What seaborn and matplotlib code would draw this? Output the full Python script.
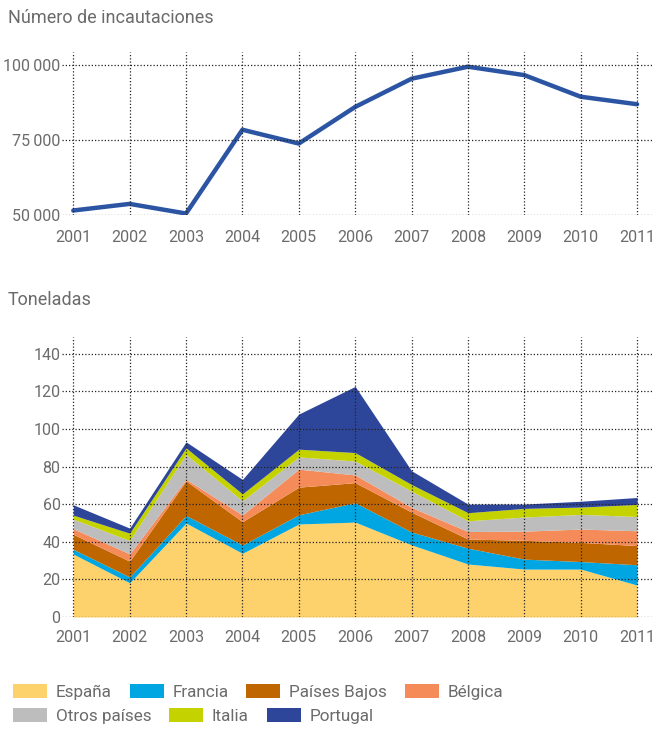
import matplotlib
matplotlib.use('Agg')
import matplotlib.pyplot as plt
from matplotlib.ticker import FuncFormatter
import seaborn as sns
import pandas as pd
import numpy as np

years = [2001, 2002, 2003, 2004, 2005, 2006, 2007, 2008, 2009, 2010, 2011]

# numero de incautaciones
seizures = [51500, 53700, 50500, 78400, 73800, 86000, 95400, 99400, 96600, 89400, 86900]

# toneladas por pais
espana = [33.5, 18.2, 50.0, 33.9, 49.5, 50.5, 38.4, 28.2, 25.5, 25.5, 17.0]
francia = [2.5, 3.1, 4.0, 4.4, 4.9, 10.3, 6.8, 8.4, 5.3, 4.0, 10.8]
paises_bajos = [8.0, 8.4, 18.4, 12.4, 14.7, 10.7, 10.6, 4.9, 10.0, 10.2, 10.2]
belgica = [3.0, 3.9, 0.9, 3.6, 9.6, 4.1, 2.5, 4.0, 4.9, 7.1, 7.9]
otros = [5.1, 7.1, 13.2, 7.5, 6.5, 7.4, 8.7, 5.7, 7.5, 7.8, 7.6]
italia = [2.1, 3.9, 3.5, 3.7, 4.1, 4.5, 3.5, 4.3, 4.6, 3.9, 6.4]
portugal = [5.5, 2.7, 3.2, 7.7, 18.7, 35.2, 7.3, 4.6, 2.3, 3.1, 3.7]

series_names = ['España', 'Francia', 'Países Bajos', 'Bélgica', 'Otros países', 'Italia', 'Portugal']
series_colors = ['#FDD16B', '#00A6E1', '#BF6600', '#F68B5A', '#BDBDBD', '#C4D300', '#2E4699']

sns.set_theme(style='white')
plt.rcParams['font.family'] = ['Roboto', 'DejaVu Sans']

TXT = '#6b6b6b'
W, H = 655, 729
fig = plt.figure(figsize=(W / 100, H / 100), dpi=100)

def axes_px(left, top, right, bottom):
    return fig.add_axes([left / W, 1 - bottom / H, (right - left) / W, (bottom - top) / H])

def style_axes(ax, xpad):
    for s in ax.spines.values():
        s.set_visible(False)
    ax.grid(True, color='#222222', linestyle=(0, (1, 1.6)), linewidth=0.9)
    ax.set_axisbelow(False)
    ax.tick_params(axis='both', length=0, labelsize=11.5, labelcolor=TXT)
    ax.tick_params(axis='x', pad=xpad)
    ax.tick_params(axis='y', pad=1)
    ax.set_xticks(years)
    ax.set_xlim(2000.8, 2011.3)
    ax.set_xlabel('')
    ax.set_ylabel('')

# top chart
ax1 = axes_px(62, 52, 654, 215)
df_top = pd.DataFrame({'year': years, 'n': seizures})
sns.lineplot(data=df_top, x='year', y='n', ax=ax1, color='#2B55A3', linewidth=3.2)
style_axes(ax1, 11)
ax1.set_ylim(50000, 104300)
ax1.set_yticks([50000, 75000, 100000])
ax1.yaxis.set_major_formatter(FuncFormatter(lambda v, p: f'{v:,.0f}'.replace(',', '\u2009')))
fig.text(8 / W, 1 - 18 / H, 'Número de incautaciones', fontsize=13, color=TXT, va='center', ha='left')

# bottom chart
ax2 = axes_px(62, 337, 654, 617)
stacks = [espana, francia, paises_bajos, belgica, otros, italia, portugal]
polys = ax2.stackplot(years, *stacks, colors=series_colors, labels=series_names, linewidth=0, zorder=1)
style_axes(ax2, 9.5)
ax2.set_ylim(0, 149)
ax2.set_yticks(range(0, 141, 20))
fig.text(8 / W, 1 - 300 / H, 'Toneladas', fontsize=13, color=TXT, va='center', ha='left')

# legend in two rows
leg_kw = dict(frameon=False, fontsize=12.3, labelcolor=TXT, handlelength=2.0, handleheight=0.9,
              handletextpad=0.5, columnspacing=1.05, loc='upper left', borderaxespad=0, borderpad=0)
leg1 = fig.legend(polys[:4], series_names[:4], ncol=4, bbox_to_anchor=(13 / W, 1 - 684 / H), **leg_kw)
leg2 = fig.legend(polys[4:], series_names[4:], ncol=3, bbox_to_anchor=(13 / W, 1 - 708 / H), **leg_kw)

fig.savefig('out.png', dpi=100)
